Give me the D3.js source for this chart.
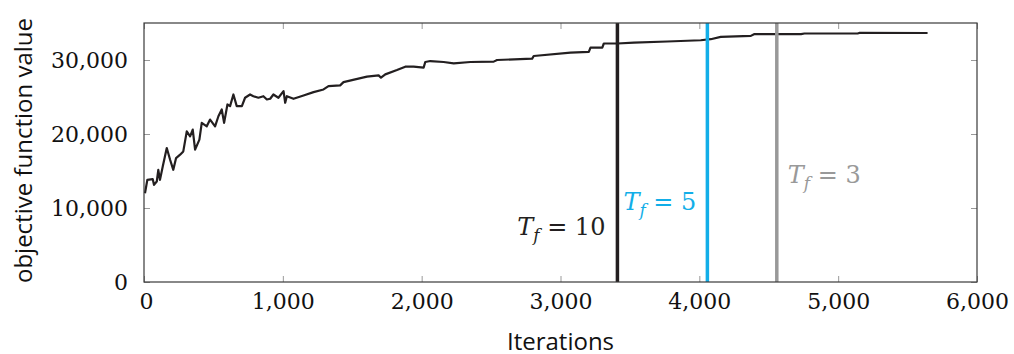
<!DOCTYPE html>
<html>
<head>
<meta charset="utf-8">
<script src="https://cdn.jsdelivr.net/npm/d3@7"></script>
<style>
  body { margin: 0; background: #fff; }
  .axis-title { font-family: "Open Sans", sans-serif; font-size: 24px; fill: #111; }
  .note { font-family: "DejaVu Serif", serif; font-size: 24px; }
</style>
</head>
<body>
<svg width="1014" height="354"></svg>
<script>
// objective function value over iterations
const iterations = [7, 24, 63, 72, 92, 103, 115, 135, 164, 188, 211, 231, 260, 283, 308, 332, 351, 368, 399, 416,
  452, 476, 512, 536, 560, 577, 601, 620, 644, 668, 705, 728, 764, 788, 824, 860, 885, 909, 932, 968,
  1005, 1017, 1029, 1077, 1149, 1221, 1293, 1329, 1413, 1437, 1498, 1606, 1690, 1707, 1738, 1822, 1882, 1942, 2014, 2026,
  2062, 2158, 2231, 2351, 2519, 2543, 2796, 2807, 3072, 3204, 3216, 3301, 3312, 3409, 3529, 3769, 4010, 4082, 4154, 4371,
  4394, 4733, 4757, 5140, 5152, 5644];
const objValues = [12000, 13800, 13900, 13130, 13570, 15160, 13800, 15610, 18100, 16520, 15160, 16750, 17200, 17650, 20360, 19680, 20590, 17880, 19240, 21500,
  21040, 21950, 21040, 22400, 23310, 21500, 23990, 23760, 25340, 23760, 23760, 24900, 25340, 25110, 24900, 25110, 24660, 24760, 25340, 24900,
  25790, 24220, 25110, 24760, 25210, 25660, 26020, 26470, 26570, 27010, 27280, 27750, 27920, 27610, 28060, 28640, 29100, 29100, 28970, 29730,
  29860, 29730, 29550, 29730, 29780, 30000, 30190, 30540, 31000, 31090, 31680, 31680, 32230, 32230, 32360, 32500, 32670, 32810, 33120, 33260,
  33490, 33490, 33580, 33580, 33660, 33650];

// final temperature markers
const markerLabels = ['10', '5', '3'];
const markerIters = [3410, 4058, 4558];
const markerColors = ['#231f20', '#12aee8', '#999999'];

const xTicks = [0, 1000, 2000, 3000, 4000, 5000, 6000];
const yTicks = [0, 10000, 20000, 30000];

const svg = d3.select('svg');
const margin = {top: 23, right: 37, bottom: 72, left: 144};
const innerWidth = 1014 - margin.left - margin.right;
const innerHeight = 354 - margin.top - margin.bottom;

const xScale = d3.scaleLinear().domain([0, 6000]).range([0, innerWidth]);
const yScale = d3.scaleLinear().domain([0, 35000]).range([innerHeight, 0]);
const fmt = d3.format(',');

const g = svg.append('g')
  .attr('transform', `translate(${margin.left},${margin.top})`);

// inward ticks on all four sides
const tickLen = 6;
const addAxis = (axis, transform) => {
  const ag = g.append('g').attr('transform', transform).call(axis);
  ag.select('.domain').remove();
  ag.selectAll('.tick line').attr('stroke', '#999').attr('stroke-width', 1);
  ag.selectAll('.tick text')
    .attr('fill', '#111')
    .style('font-family', '"DejaVu Serif", serif')
    .style('font-size', '22px');
  return ag;
};
const xb = addAxis(d3.axisBottom(xScale).tickValues(xTicks).tickSize(-tickLen).tickPadding(11).tickFormat(fmt),
  `translate(0,${innerHeight})`);
addAxis(d3.axisTop(xScale).tickValues(xTicks).tickSize(-tickLen), 'translate(0,0)')
  .selectAll('.tick text').remove();
addAxis(d3.axisLeft(yScale).tickValues(yTicks).tickSize(-tickLen).tickPadding(16).tickFormat(fmt), 'translate(0,0)');
addAxis(d3.axisRight(yScale).tickValues(yTicks).tickSize(-tickLen), `translate(${innerWidth},0)`)
  .selectAll('.tick text').remove();

xb.select('.tick:first-of-type text').attr('dx', 2);

// the series
const line = d3.line()
  .x((d, i) => xScale(iterations[i]))
  .y(d => yScale(d));

g.append('path')
  .attr('d', line(objValues))
  .attr('fill', 'none')
  .attr('stroke', '#231f20')
  .attr('stroke-width', 2.2)
  .attr('stroke-linejoin', 'round');

// vertical markers
g.selectAll('.marker')
  .data(markerIters)
  .enter().append('line')
  .attr('class', 'marker')
  .attr('x1', d => xScale(d))
  .attr('x2', d => xScale(d))
  .attr('y1', 0)
  .attr('y2', innerHeight)
  .attr('stroke', (d, i) => markerColors[i])
  .attr('stroke-width', 3.5);

// T_f labels
const notePos = [
  {x: xScale(markerIters[0]) - 12, y: 235, anchor: 'end'},
  {x: xScale(markerIters[0]) + 6, y: 210, anchor: 'start'},
  {x: xScale(markerIters[2]) + 11, y: 183, anchor: 'start'}
];
markerIters.forEach((it, i) => {
  const p = notePos[i];
  const t = svg.append('text')
    .attr('class', 'note')
    .attr('x', margin.left + p.x)
    .attr('y', p.y)
    .attr('text-anchor', p.anchor)
    .attr('fill', markerColors[i]);
  t.append('tspan').attr('font-style', 'italic').text('T');
  t.append('tspan').attr('font-style', 'italic').attr('font-size', 17).attr('dy', 6).text('f');
  t.append('tspan').attr('dy', -6).text(' = ' + markerLabels[i]);
});

// frame
g.append('rect')
  .attr('width', innerWidth)
  .attr('height', innerHeight)
  .attr('fill', 'none')
  .attr('stroke', '#3a3a3a')
  .attr('stroke-width', 1.2);

// axis titles
svg.append('text')
  .attr('class', 'axis-title')
  .attr('x', margin.left + innerWidth / 2)
  .attr('y', 350)
  .attr('text-anchor', 'middle')
  .text('Iterations');

svg.append('text')
  .attr('class', 'axis-title')
  .attr('transform', `translate(32,${margin.top + innerHeight / 2 - 2}) rotate(-90)`)
  .attr('text-anchor', 'middle')
  .text('objective function value');
</script>
</body>
</html>
